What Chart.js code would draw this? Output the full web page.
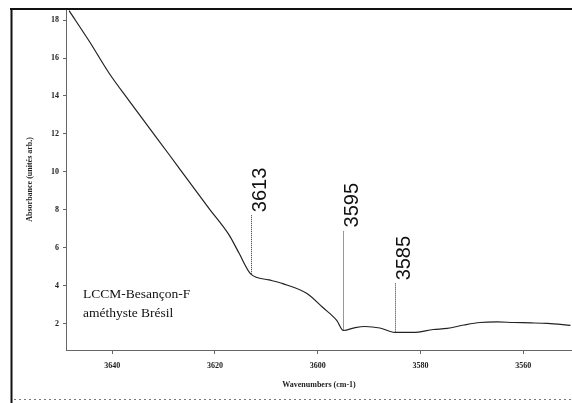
<!DOCTYPE html>
<html>
<head>
<meta charset="utf-8">
<script src="https://cdn.jsdelivr.net/npm/chart.js@4.4.1/dist/chart.umd.min.js"></script>
<style>
  html, body { margin: 0; padding: 0; background: #fff; }
  #wrap { position: relative; width: 572px; height: 403px; }
</style>
</head>
<body>
<div id="wrap"><canvas id="spectrum" width="572" height="403"></canvas></div>
<script>
// IR spectrum, OH stretching region
const wavenumbers = [3648.4, 3644.5, 3640.6, 3636.7, 3632.8, 3628.9, 3625.0, 3621.1, 3617.2,
  3615.3, 3613.0, 3609.5, 3606.8, 3602.1, 3599.0, 3596.3, 3595.0, 3592.7, 3590.8,
  3587.9, 3585.0, 3581.4, 3577.5, 3574.8, 3571.5, 3568.4, 3565.0, 3561.9, 3558.5,
  3555.3, 3550.8];
const absorbance = [18.5, 16.9, 15.2, 13.74, 12.32, 10.9, 9.47, 8.05, 6.65,
  5.7, 4.6, 4.3, 4.1, 3.58, 2.84, 2.16, 1.63, 1.78, 1.84,
  1.76, 1.53, 1.53, 1.68, 1.74, 1.92, 2.05, 2.08, 2.05, 2.03,
  2.0, 1.9];
const peakLabels = [3613, 3595, 3585];
const xTicks = [3640, 3620, 3600, 3580, 3560];
const yTicks = [2, 4, 6, 8, 10, 12, 14, 16, 18];
const sampleLines = ['LCCM-Besançon-F', 'améthyste Brésil'];

// absorbance at a wavenumber, straight-line between recorded points
function valueAt(w) {
  for (let i = 0; i < wavenumbers.length - 1; i++) {
    const a = wavenumbers[i], b = wavenumbers[i + 1];
    if (w <= a && w >= b) {
      const t = (a - w) / (a - b);
      return absorbance[i] + t * (absorbance[i + 1] - absorbance[i]);
    }
  }
  return absorbance[absorbance.length - 1];
}

const frame = {
  id: 'frame',
  afterDraw(chart) {
    const ctx = chart.ctx;
    ctx.save();
    ctx.strokeStyle = '#111';
    ctx.lineWidth = 2;
    ctx.beginPath();
    ctx.moveTo(10, 9); ctx.lineTo(572, 9);
    ctx.moveTo(11.5, 8); ctx.lineTo(11.5, 403);
    ctx.stroke();
    ctx.lineWidth = 1;
    ctx.strokeStyle = '#777';
    ctx.setLineDash([2, 3]);
    ctx.beginPath();
    ctx.moveTo(14, 399.5); ctx.lineTo(572, 399.5);
    ctx.stroke();
    ctx.restore();
  }
};

const peakMarks = {
  id: 'peakMarks',
  afterDatasetsDraw(chart, args, opts) {
    const {ctx, scales: {x, y}} = chart;
    ctx.save();
    peakLabels.forEach((w, i) => {
      const px = Math.round(x.getPixelForValue(w)) + 0.5;
      const py = y.getPixelForValue(valueAt(w));
      const top = py - opts.stems[i];
      ctx.strokeStyle = '#333';
      ctx.lineWidth = 1;
      ctx.setLineDash([1, 1]);
      ctx.beginPath();
      ctx.moveTo(px, py);
      ctx.lineTo(px, top);
      ctx.stroke();
      ctx.setLineDash([]);
      ctx.translate(px, top - 3);
      ctx.rotate(-Math.PI / 2);
      ctx.fillStyle = '#111';
      ctx.font = '20px "Liberation Sans", Arial, sans-serif';
      ctx.textAlign = 'left';
      ctx.textBaseline = 'top';
      ctx.fillText(String(w), 0, -1);
      ctx.setTransform(1, 0, 0, 1, 0, 0);
    });
    ctx.fillStyle = '#111';
    ctx.font = '13.5px "Liberation Serif", "Times New Roman", serif';
    ctx.textAlign = 'left';
    ctx.textBaseline = 'middle';
    sampleLines.forEach((t, i) => ctx.fillText(t, opts.textX, opts.textY + i * 19));
    ctx.restore();
  }
};

const tickFont = { family: '"Liberation Serif", serif', size: 8, weight: 'bold' };

new Chart(document.getElementById('spectrum'), {
  type: 'line',
  data: {
    datasets: [{
      data: wavenumbers.map((w, i) => ({ x: w, y: absorbance[i] })),
      borderColor: '#222',
      borderWidth: 1.2,
      pointRadius: 0,
      cubicInterpolationMode: 'monotone',
      fill: false
    }]
  },
  options: {
    responsive: false,
    animation: false,
    events: [],
    layout: { padding: { top: 8, left: 0, right: 0, bottom: 0 } },
    plugins: {
      legend: { display: false },
      tooltip: { enabled: false },
      peakMarks: { stems: [59, 100, 49], textX: 83, textY: 294 }
    },
    scales: {
      x: {
        type: 'linear',
        reverse: true,
        min: 3550.5,
        max: 3649,
        afterFit: s => { s.height = 53; },
        afterBuildTicks: s => { s.ticks = xTicks.map(v => ({ value: v })); },
        border: { display: true, color: '#666', dash: [1, 3] },
        grid: { display: true, drawOnChartArea: false, tickLength: 4, color: '#666' },
        ticks: { color: '#222', font: tickFont, padding: 7, maxRotation: 0, callback: v => String(v) },
        title: {
          display: true,
          text: 'Wavenumbers (cm-1)',
          color: '#222',
          font: { family: '"Liberation Serif", serif', size: 8, weight: 'bold' },
          padding: { top: 0, bottom: 13 }
        }
      },
      y: {
        min: 0.6,
        max: 18.6,
        afterFit: s => { s.width = 66; },
        afterBuildTicks: s => { s.ticks = yTicks.map(v => ({ value: v })); },
        border: { display: true, color: '#666', dash: [1, 3] },
        grid: { display: true, drawOnChartArea: false, tickLength: 3, color: '#666' },
        ticks: { color: '#222', font: tickFont, padding: 4, callback: v => String(v) },
        title: {
          display: true,
          text: 'Absorbance (unités arb.)',
          color: '#222',
          font: { family: '"Liberation Serif", serif', size: 8, weight: 'bold' },
          padding: { top: 25, bottom: 0 }
        }
      }
    }
  },
  plugins: [frame, peakMarks]
});
</script>
</body>
</html>
